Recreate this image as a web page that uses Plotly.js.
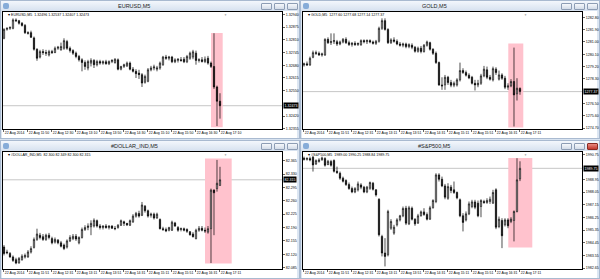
<!DOCTYPE html>
<html><head><meta charset="utf-8">
<script src="https://cdn.plot.ly/plotly-3.0.1.min.js"></script>
<style>
html,body{margin:0;padding:0;width:600px;height:279px;overflow:hidden;background:#d9e4f1;font-family:"Liberation Sans",Arial,sans-serif;}
.win{position:absolute;width:300px;height:139px;box-sizing:border-box;border:1px solid #a9bad0;background:#dce6f2;}
.tb{position:absolute;left:0;top:0;width:298px;height:10px;background:linear-gradient(#f3f7fc,#d6e1ef);}
.inner{position:absolute;left:1px;top:10px;width:295px;height:127px;background:#fff;}
.btn{position:absolute;top:2px;width:9px;height:5px;border:1px solid #8d9db4;border-radius:1px;background:linear-gradient(#f6f8fb,#d3dce8);}
.ico{position:absolute;left:2px;top:2px;width:6px;height:6px;border-radius:2px;background:#86acd8;}
#chart{position:absolute;left:0;top:0;width:600px;height:279px;}
</style></head>
<body>
<div class="win" style="left:0;top:0"><div class="tb"></div><div class="ico"></div><div class="btn" style="left:260px"></div><div class="btn" style="left:273px"></div><div class="btn" style="left:286px"></div><div class="inner"></div></div>
<div class="win" style="left:300px;top:0"><div class="tb"></div><div class="ico"></div><div class="btn" style="left:260px"></div><div class="btn" style="left:273px"></div><div class="btn" style="left:286px"></div><div class="inner"></div></div>
<div class="win" style="left:0;top:140px"><div class="tb"></div><div class="ico"></div><div class="btn" style="left:260px"></div><div class="btn" style="left:273px"></div><div class="btn" style="left:286px"></div><div class="inner"></div></div>
<div class="win" style="left:300px;top:140px"><div class="tb"></div><div class="ico"></div><div class="btn" style="left:260px"></div><div class="btn" style="left:273px"></div><div class="btn" style="left:286px;background:linear-gradient(#e88a80,#c2392e);border-color:#8a2a22"></div><div class="inner"></div></div>
<div id="chart"></div>
<script>
// ---------- EURUSD,M5 ----------
const eurOpen=[1.32818,1.32864,1.32869,1.32869,1.32912,1.32908,1.32895,1.32884,1.32847,1.32847,
1.32820,1.32762,1.32722,1.32750,1.32745,1.32733,1.32750,1.32745,1.32767,1.32759,
1.32767,1.32801,1.32767,1.32755,1.32742,1.32725,1.32708,1.32694,1.32666,1.32691,
1.32705,1.32683,1.32699,1.32691,1.32698,1.32688,1.32699,1.32694,1.32708,1.32660,
1.32674,1.32677,1.32691,1.32660,1.32649,1.32640,1.32632,1.32593,1.32598,1.32657,
1.32666,1.32660,1.32666,1.32683,1.32722,1.32716,1.32722,1.32698,1.32705,1.32708,
1.32711,1.32698,1.32716,1.32722,1.32742,1.32705,1.32708,1.32699,1.32716,1.32691,
1.32674,1.32569,1.32496];
const eurHigh=[1.32869,1.32874,1.32878,1.32920,1.32920,1.32912,1.32901,1.32891,1.32854,1.32857,
1.32827,1.32767,1.32759,1.32762,1.32759,1.32759,1.32759,1.32776,1.32779,1.32796,
1.32818,1.32810,1.32776,1.32762,1.32750,1.32733,1.32716,1.32705,1.32708,1.32716,
1.32711,1.32708,1.32708,1.32705,1.32708,1.32705,1.32711,1.32716,1.32715,1.32677,
1.32688,1.32699,1.32699,1.32671,1.32660,1.32657,1.32640,1.32632,1.32666,1.32677,
1.32683,1.32677,1.32699,1.32728,1.32733,1.32728,1.32728,1.32716,1.32716,1.32722,
1.32722,1.32733,1.32750,1.32759,1.32755,1.32716,1.32722,1.32725,1.32728,1.32699,
1.32844,1.32576,1.32537];
const eurLow=[1.32813,1.32857,1.32861,1.32864,1.32901,1.32888,1.32878,1.32840,1.32837,1.32820,
1.32755,1.32703,1.32715,1.32733,1.32728,1.32725,1.32738,1.32742,1.32759,1.32755,
1.32759,1.32759,1.32745,1.32733,1.32716,1.32699,1.32649,1.32657,1.32654,1.32674,
1.32666,1.32674,1.32683,1.32683,1.32683,1.32681,1.32691,1.32688,1.32654,1.32654,
1.32666,1.32671,1.32654,1.32643,1.32615,1.32610,1.32569,1.32586,1.32593,1.32649,
1.32654,1.32649,1.32657,1.32677,1.32708,1.32705,1.32691,1.32691,1.32694,1.32698,
1.32691,1.32691,1.32708,1.32711,1.32683,1.32694,1.32694,1.32691,1.32683,1.32666,
1.32559,1.32369,1.32407];
const eurClose=[1.32864,1.32869,1.32874,1.32912,1.32908,1.32895,1.32884,1.32847,1.32844,1.32823,
1.32762,1.32716,1.32750,1.32745,1.32742,1.32750,1.32745,1.32767,1.32772,1.32776,
1.32806,1.32767,1.32755,1.32742,1.32725,1.32708,1.32694,1.32674,1.32699,1.32705,
1.32683,1.32699,1.32691,1.32698,1.32688,1.32699,1.32705,1.32711,1.32660,1.32674,
1.32683,1.32691,1.32660,1.32649,1.32637,1.32632,1.32589,1.32623,1.32657,1.32666,
1.32671,1.32666,1.32691,1.32722,1.32716,1.32722,1.32698,1.32708,1.32711,1.32705,
1.32698,1.32725,1.32742,1.32749,1.32705,1.32708,1.32699,1.32711,1.32691,1.32674,
1.32569,1.32496,1.32473];
const eurTimeLabels=["22 Aug 2014","22 Aug 11:50","22 Aug 12:30","22 Aug 13:10","22 Aug 13:50","22 Aug 14:30","22 Aug 15:10","22 Aug 15:50","22 Aug 16:30","22 Aug 17:10"];
// 1.32485 is hidden under the current-price label in the reference
const eurPriceLabels=["1.32355","1.32420","1.32550","1.32615","1.32680","1.32745","1.32810","1.32875","1.32940"];

// ---------- GOLD,M5 ----------
const goldOpen=[1279.32,1279.40,1279.32,1279.88,1280.22,1280.17,1280.05,1280.05,1281.19,1280.95,
1281.02,1281.02,1280.85,1281.00,1281.19,1280.95,1280.81,1280.90,1280.81,1280.81,
1281.10,1281.02,1281.10,1281.00,1280.90,1281.05,1282.00,1282.56,1281.92,1280.95,
1281.15,1281.05,1280.85,1280.76,1280.85,1280.66,1280.76,1280.61,1280.32,1280.54,
1280.30,1280.76,1280.95,1280.47,1280.17,1279.49,1277.86,1277.86,1278.42,1278.03,
1277.84,1277.86,1278.23,1278.91,1278.76,1278.57,1278.42,1277.98,1277.86,1277.98,
1278.52,1278.96,1278.42,1278.23,1279.01,1278.28,1278.59,1278.35,1277.69,1277.79,
1278.11,1277.21,1277.60];
const goldHigh=[1279.49,1279.57,1279.93,1280.37,1280.37,1280.30,1280.22,1281.27,1281.34,1281.63,
1281.63,1281.15,1281.10,1281.29,1281.34,1281.10,1281.00,1281.05,1280.95,1281.19,
1281.19,1281.19,1281.19,1281.10,1281.15,1282.12,1282.73,1282.73,1282.00,1281.27,
1281.34,1281.19,1281.00,1280.95,1280.95,1280.90,1280.90,1280.71,1280.66,1280.71,
1280.85,1281.10,1281.02,1280.54,1280.30,1279.57,1278.42,1278.59,1278.52,1278.23,
1278.11,1278.35,1279.49,1279.08,1278.91,1278.71,1278.52,1278.23,1278.23,1278.67,
1279.25,1279.20,1278.59,1279.20,1279.15,1278.91,1278.71,1278.52,1277.98,1278.28,
1280.59,1278.35,1277.68];
const goldLow=[1279.20,1279.25,1279.25,1279.81,1280.05,1279.98,1279.93,1279.98,1280.85,1280.78,
1280.85,1280.71,1280.76,1280.90,1280.85,1280.71,1280.66,1280.71,1280.71,1280.71,
1280.90,1280.85,1280.90,1280.81,1280.78,1280.95,1281.88,1281.83,1280.85,1280.85,
1280.95,1280.76,1280.66,1280.61,1280.54,1280.54,1280.47,1280.22,1280.22,1280.17,
1280.22,1280.66,1280.37,1280.05,1279.40,1277.79,1277.50,1277.50,1277.86,1277.69,
1277.69,1277.74,1278.11,1278.67,1278.47,1278.28,1277.89,1277.45,1277.69,1277.86,
1278.42,1278.28,1278.18,1278.11,1278.59,1278.18,1278.23,1277.55,1277.50,1277.69,
1274.82,1276.72,1277.14];
const goldClose=[1279.40,1279.32,1279.81,1280.22,1280.17,1280.05,1280.12,1281.19,1280.95,1281.02,
1281.10,1280.85,1281.00,1281.19,1280.95,1280.81,1280.90,1280.81,1280.90,1281.10,
1281.02,1281.10,1281.00,1280.90,1281.05,1282.00,1282.56,1281.92,1280.95,1281.15,
1281.05,1280.85,1280.76,1280.85,1280.66,1280.81,1280.61,1280.32,1280.54,1280.30,
1280.76,1281.00,1280.47,1280.17,1279.49,1277.86,1277.79,1278.42,1278.03,1277.84,
1277.98,1278.23,1278.91,1278.76,1278.57,1278.37,1277.98,1277.86,1277.98,1278.52,
1279.01,1278.42,1278.28,1279.05,1278.76,1278.59,1278.35,1277.69,1277.79,1278.11,
1277.13,1277.62,1277.37];
const goldTimeLabels=["22 Aug 2014","22 Aug 11:51","22 Aug 12:31","22 Aug 13:11","22 Aug 13:51","22 Aug 14:31","22 Aug 15:11","22 Aug 15:51","22 Aug 16:31","22 Aug 17:11"];
// 1277.40 is hidden under the current-price label in the reference
const goldPriceLabels=["1274.70","1275.60","1276.50","1278.30","1279.20","1280.10","1281.00","1281.90","1282.80"];

// ---------- #DOLLAR_IND,M5 ----------
const dxyOpen=[82.139,82.126,82.122,82.113,82.106,82.097,82.106,82.113,82.113,82.126,
82.138,82.159,82.170,82.166,82.159,82.170,82.161,82.152,82.157,82.150,
82.144,82.139,82.155,82.161,82.167,82.150,82.164,82.185,82.190,82.192,
82.194,82.208,82.194,82.190,82.194,82.190,82.194,82.188,82.190,82.196,
82.205,82.201,82.196,82.205,82.220,82.227,82.222,82.246,82.234,82.222,
82.225,82.215,82.211,82.187,82.185,82.183,82.183,82.202,82.190,82.185,
82.187,82.185,82.179,82.173,82.161,82.183,82.188,82.183,82.178,82.187,
82.288,82.292,82.300];
const dxyHigh=[82.144,82.132,82.126,82.117,82.111,82.113,82.120,82.122,82.131,82.141,
82.164,82.187,82.176,82.173,82.174,82.176,82.166,82.164,82.160,82.155,
82.148,82.159,82.170,82.173,82.173,82.167,82.190,82.196,82.201,82.209,
82.214,82.211,82.199,82.196,82.199,82.196,82.196,82.194,82.199,82.211,
82.208,82.202,82.211,82.225,82.231,82.234,82.257,82.249,82.237,82.229,
82.229,82.229,82.214,82.192,82.190,82.192,82.208,82.205,82.194,82.190,
82.190,82.188,82.181,82.178,82.187,82.194,82.194,82.190,82.194,82.292,
82.290,82.367,82.349];
const dxyLow=[82.117,82.120,82.111,82.100,82.094,82.096,82.103,82.109,82.111,82.122,
82.135,82.155,82.159,82.155,82.155,82.159,82.146,82.148,82.146,82.138,
82.131,82.135,82.152,82.157,82.155,82.146,82.161,82.181,82.183,82.170,
82.190,82.190,82.185,82.185,82.187,82.185,82.187,82.183,82.187,82.194,
82.194,82.194,82.194,82.202,82.216,82.216,82.220,82.229,82.216,82.216,
82.211,82.213,82.185,82.181,82.178,82.180,82.181,82.192,82.179,82.180,
82.180,82.176,82.169,82.164,82.159,82.179,82.180,82.176,82.174,82.097,
82.170,82.284,82.300];
const dxyClose=[82.122,82.124,82.113,82.104,82.097,82.109,82.115,82.117,82.126,82.135,
82.159,82.173,82.164,82.159,82.170,82.164,82.150,82.159,82.150,82.141,
82.135,82.155,82.164,82.167,82.160,82.164,82.185,82.190,82.194,82.201,
82.209,82.194,82.190,82.194,82.190,82.194,82.188,82.187,82.196,82.208,
82.201,82.197,82.208,82.220,82.227,82.220,82.249,82.234,82.220,82.225,
82.215,82.225,82.187,82.185,82.181,82.190,82.204,82.194,82.183,82.187,
82.183,82.180,82.171,82.166,82.183,82.188,82.183,82.181,82.187,82.288,
82.281,82.306,82.315];
const dxyTimeLabels=["22 Aug 2014","22 Aug 11:51","22 Aug 12:31","22 Aug 13:11","22 Aug 13:51","22 Aug 14:31","22 Aug 15:11","22 Aug 15:51","22 Aug 16:31","22 Aug 17:11"];
const dxyPriceLabels=["82.085","82.120","82.155","82.190","82.225","82.260","82.295","82.330","82.365"];

// ---------- #S&P500,M5 ----------
const spxOpen=[1990.47,1990.39,1990.44,1990.54,1990.06,1990.23,1990.35,1990.44,1990.02,1990.23,
1990.30,1989.54,1989.40,1989.05,1988.88,1988.59,1988.31,1988.07,1988.22,1988.57,
1988.41,1988.07,1988.33,1988.69,1988.22,1987.55,1984.90,1983.72,1983.60,1985.49,
1985.14,1985.73,1986.08,1986.37,1986.91,1985.80,1986.91,1986.13,1985.85,1986.37,
1986.65,1986.46,1986.13,1986.94,1987.39,1989.28,1988.97,1988.50,1987.62,1988.41,
1988.22,1988.03,1987.51,1986.37,1986.08,1986.51,1987.03,1987.36,1987.27,1987.03,
1987.39,1987.32,1987.39,1987.27,1988.22,1985.61,1986.04,1985.73,1986.08,1985.97,
1986.04,1986.68,1989.00];
const spxHigh=[1990.58,1990.54,1990.58,1990.63,1990.39,1990.47,1990.58,1990.54,1990.35,1990.35,
1990.39,1989.87,1989.52,1989.16,1988.97,1988.74,1988.45,1988.41,1988.81,1988.69,
1988.50,1988.50,1988.81,1988.78,1988.26,1987.62,1985.02,1984.78,1986.80,1986.13,
1985.73,1986.20,1986.44,1987.03,1987.08,1987.08,1987.03,1986.20,1986.51,1986.75,
1986.91,1986.61,1987.08,1987.55,1989.40,1989.40,1989.16,1988.64,1988.69,1988.57,
1988.81,1988.10,1987.60,1986.56,1986.68,1987.39,1987.51,1987.51,1987.46,1987.55,
1987.51,1987.62,1987.74,1988.22,1988.33,1986.32,1986.20,1986.20,1986.20,1986.27,
1986.75,1990.47,1990.25];
const spxLow=[1990.30,1990.30,1990.25,1989.52,1989.99,1990.16,1990.30,1989.87,1989.97,1989.87,
1989.45,1989.35,1988.93,1988.74,1988.50,1988.22,1987.98,1987.98,1988.10,1988.26,
1987.98,1987.98,1988.22,1988.17,1987.74,1984.90,1983.48,1982.77,1983.48,1985.37,
1985.02,1985.61,1985.97,1986.27,1985.71,1985.71,1986.04,1985.66,1985.80,1986.32,
1986.37,1986.04,1986.08,1986.89,1987.27,1988.81,1988.41,1987.55,1987.51,1987.98,
1987.93,1987.55,1986.27,1985.26,1985.97,1986.42,1986.91,1986.84,1986.27,1986.27,
1987.22,1987.22,1987.22,1987.22,1985.42,1985.49,1984.07,1985.61,1985.49,1985.85,
1984.55,1986.61,1988.84];
const spxClose=[1990.39,1990.44,1990.35,1989.99,1990.30,1990.35,1990.49,1989.97,1990.25,1989.97,
1989.54,1989.45,1989.05,1988.83,1988.59,1988.31,1988.07,1988.31,1988.64,1988.41,
1988.07,1988.41,1988.74,1988.26,1987.86,1985.02,1983.72,1983.48,1986.68,1985.97,
1985.56,1986.08,1986.37,1986.89,1985.85,1986.94,1986.13,1985.80,1986.37,1986.65,
1986.46,1986.13,1986.94,1987.46,1989.28,1988.97,1988.50,1987.70,1988.45,1988.17,
1988.03,1987.65,1986.37,1985.90,1986.51,1987.22,1987.36,1986.98,1986.37,1987.46,
1987.32,1987.46,1987.55,1988.03,1985.56,1986.13,1984.95,1986.08,1985.66,1986.13,
1986.68,1988.93,1989.75];
const spxTimeLabels=["22 Aug 2014","22 Aug 11:51","22 Aug 12:31","22 Aug 13:11","22 Aug 13:51","22 Aug 14:31","22 Aug 15:11","22 Aug 15:51","22 Aug 16:31","22 Aug 17:11"];
// 1989.85 is hidden under the current-price label in the reference
const spxPriceLabels=["1982.65","1983.55","1984.45","1985.35","1986.25","1987.15","1988.05","1988.95","1990.75"];

const symbolNames=["EURUSD,M5","GOLD,M5","#DOLLAR_IND,M5","#S&amp;P500,M5"];

// ---------- layout settings ----------
const W=600,H=279;
const specs=[
 {name:symbolNames[0],o:eurOpen,h:eurHigh,l:eurLow,c:eurClose,times:eurTimeLabels,prices:eurPriceLabels,digits:5,ox:0,oy:0,yr:[1.32355,1.32951],hlBars:[69,72],hx:[69.0,72.9],hpad:[0.3,1.2]},
 {name:symbolNames[1],o:goldOpen,h:goldHigh,l:goldLow,c:goldClose,times:goldTimeLabels,prices:goldPriceLabels,digits:2,ox:300,oy:0,yr:[1274.65,1283.17],hlBars:[68,72],hx:[68.1,73.1],hpad:[4.2,1.0]},
 {name:symbolNames[2],o:dxyOpen,h:dxyHigh,l:dxyLow,c:dxyClose,times:dxyTimeLabels,prices:dxyPriceLabels,digits:3,ox:0,oy:140,yr:[82.082,82.387],hlBars:[67,72],hx:[67.0,75.9],hpad:[1.5,0.4]},
 {name:symbolNames[3],o:spxOpen,h:spxHigh,l:spxLow,c:spxClose,times:spxTimeLabels,prices:spxPriceLabels,digits:2,ox:300,oy:140,yr:[1982.60,1990.89],hlBars:[68,72],hx:[68.1,76.1],hpad:[0.3,6.0]}
];
const box={l:3,r:282,t:12.3,b:128.8};
const barsPerLabel=8;

const data=[];
const layout={width:W,height:H,margin:{l:0,r:0,t:0,b:0},paper_bgcolor:'rgba(0,0,0,0)',plot_bgcolor:'rgba(0,0,0,0)',
  font:{family:'"Liberation Sans", Arial, sans-serif',size:4,color:'#000'},showlegend:false,boxgap:0.4,shapes:[],annotations:[]};

specs.forEach((s,k)=>{
  const n=k+1, xa='x'+(n>1?n:''), ya='y'+(n>1?n:'');
  const xk='xaxis'+(n>1?n:''), yk='yaxis'+(n>1?n:'');
  const idx=s.c.map((_,i)=>i);
  data.push({type:'candlestick',x:idx,open:s.o,high:s.h,low:s.l,close:s.c,xaxis:xa,yaxis:ya,
    increasing:{line:{color:'#000',width:0.7},fillcolor:'#fff'},
    decreasing:{line:{color:'#000',width:0.7},fillcolor:'#000'},
    whiskerwidth:0,hoverinfo:'skip',showlegend:false});
  layout[xk]={domain:[(s.ox+box.l)/W,(s.ox+box.r)/W],anchor:ya,range:[-0.33,92.67],
    rangeslider:{visible:false},tickmode:'array',tickvals:s.times.map((_,j)=>j*barsPerLabel),ticktext:s.times,
    tickangle:0,ticklabelposition:'outside right',tickfont:{size:3.5,color:'#000'},ticks:'outside',ticklen:2,tickcolor:'#000',tickwidth:0.6,
    showline:true,linecolor:'#000',linewidth:1,mirror:true,showgrid:false,zeroline:false,fixedrange:true};
  layout[yk]={domain:[1-(s.oy+box.b)/H,1-(s.oy+box.t)/H],anchor:xa,side:'right',range:s.yr,
    tickmode:'array',tickvals:s.prices.map(Number),ticktext:s.prices,tickfont:{size:3.6,color:'#000'},
    ticks:'outside',ticklen:2,tickcolor:'#000',tickwidth:0.6,
    showline:true,linecolor:'#000',linewidth:1,mirror:true,showgrid:false,zeroline:false,fixedrange:true};
  const unitPerPx=(s.yr[1]-s.yr[0])/(box.b-box.t);
  const hh=Math.max(...s.h.slice(s.hlBars[0],s.hlBars[1]+1));
  const ll=Math.min(...s.l.slice(s.hlBars[0],s.hlBars[1]+1));
  layout.shapes.push({type:'rect',xref:xa,yref:ya,x0:s.hx[0],x1:s.hx[1],y0:ll-s.hpad[1]*unitPerPx,y1:hh+s.hpad[0]*unitPerPx,
    fillcolor:'#ffc2cd',line:{width:0},layer:'below'});
  const last=s.c.length-1;
  layout.shapes.push({type:'line',xref:xa+' domain',yref:ya,x0:0,x1:1,y0:s.c[last],y1:s.c[last],line:{color:'#c6c6c6',width:1},layer:'below'});
  // window title
  layout.annotations.push({xref:'paper',yref:'paper',x:(s.ox+134)/W,y:1-(s.oy+5.6)/H,xanchor:'center',yanchor:'middle',
    text:s.name,showarrow:false,font:{size:5.5,color:'#1e1e1e'}});
  // header info
  const d=s.digits;
  layout.annotations.push({xref:'paper',yref:'paper',x:(s.ox+5.5)/W,y:1-(s.oy+14.8)/H,xanchor:'left',yanchor:'middle',
    text:'▾ '+s.name+'  '+s.o[last].toFixed(d)+' '+s.h[last].toFixed(d)+' '+s.l[last].toFixed(d)+' '+s.c[last].toFixed(d),
    showarrow:false,font:{size:3.6,color:'#000'}});
  // current price label
  layout.annotations.push({xref:xa+' domain',yref:ya,x:1,y:s.c[last],xanchor:'left',yanchor:'middle',xshift:0.5,
    text:s.c[last].toFixed(d),showarrow:false,bgcolor:'#000',borderpad:0.6,font:{size:3.6,color:'#fff'}});
  // chart shift marker
  layout.annotations.push({xref:xa,yref:ya+' domain',x:74,y:1,xanchor:'center',yanchor:'top',yshift:1,
    text:'▼',showarrow:false,font:{size:3,color:'#9a9a9a'}});
});

Plotly.newPlot('chart',data,layout,{staticPlot:true,displayModeBar:false});
</script>
</body></html>
